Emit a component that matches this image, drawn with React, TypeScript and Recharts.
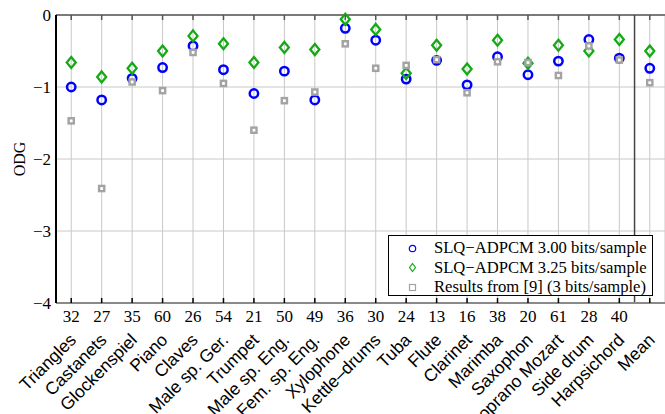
import React from 'react';
import { ComposedChart, Scatter, XAxis, YAxis, CartesianGrid, ReferenceLine } from 'recharts';

const categories = [
  'Triangles', 'Castanets', 'Glockenspiel', 'Piano', 'Claves', 'Male sp. Ger.', 'Trumpet',
  'Male sp. Eng.', 'Fem. sp. Eng.', 'Xylophone', 'Kettle\u2013drums', 'Tuba', 'Flute', 'Clarinet',
  'Marimba', 'Saxophon', 'Soprano Mozart', 'Side drum', 'Harpsichord', 'Mean',
];
const counts = ['32', '27', '35', '60', '26', '54', '21', '50', '49', '36', '30', '24', '13', '16', '38', '20', '61', '28', '40', ''];
const slq300 = [-1.0, -1.18, -0.88, -0.73, -0.43, -0.76, -1.09, -0.78, -1.18, -0.185, -0.35, -0.89, -0.63, -0.97, -0.58, -0.83, -0.64, -0.34, -0.6, -0.74];
const slq325 = [-0.66, -0.86, -0.74, -0.5, -0.29, -0.4, -0.66, -0.45, -0.48, -0.06, -0.2, -0.81, -0.42, -0.75, -0.35, -0.67, -0.42, -0.5, -0.34, -0.5];
const ref9 = [-1.47, -2.41, -0.93, -1.05, -0.52, -0.95, -1.6, -1.19, -1.07, -0.4, -0.74, -0.7, -0.62, -1.08, -0.65, -0.66, -0.84, -0.43, -0.625, -0.94];
const yTicks = [0, -1, -2, -3, -4];
const legendLabels = ['SLQ\u2212ADPCM 3.00 bits/sample', 'SLQ\u2212ADPCM 3.25 bits/sample', 'Results from [9] (3 bits/sample)'];

const xTicks = categories.map((_, i) => i + 0.5);
const mk = (vals: number[]) => vals.map((v, i) => ({ x: i + 0.5, y: v }));

const BLUE = '#0000ff';
const GREEN = '#14aa14';
const GREY = '#a3a3a3';
const PLOT_H = 288;
const SERIF = '"Liberation Serif", "Times New Roman", serif';
const SANS = '"Liberation Sans", Arial, sans-serif';

const Circle = (p: any) => <circle cx={p.cx} cy={p.cy} r={4.2} fill="none" stroke={BLUE} strokeWidth={2.5} />;
const Diamond = (p: any) => (
  <polygon
    points={`${p.cx},${p.cy - 5.5} ${p.cx + 4.5},${p.cy} ${p.cx},${p.cy + 5.5} ${p.cx - 4.5},${p.cy}`}
    fill="none" stroke={GREEN} strokeWidth={2.3} />
);
const Square = (p: any) => <rect x={p.cx - 2.6} y={p.cy - 2.6} width={5.2} height={5.2} fill="#fff" stroke={GREY} strokeWidth={2.4} />;

const XTick = (props: any) => {
  const { x, y, payload } = props;
  const i = Math.round(payload.value - 0.5);
  const ax = x + 6;
  const ay = y + 38;
  return (
    <g>
      <line x1={x} x2={x} y1={y} y2={y - 5} stroke="#000" strokeWidth={1.5} />
      <line x1={x} x2={x} y1={y - PLOT_H} y2={y - PLOT_H + 5} stroke="#555" strokeWidth={1.5} />
      <text x={x} y={y + 19} textAnchor="middle" fontFamily={SERIF} fontSize={17} fill="#000">{counts[i]}</text>
      <text x={ax} y={ay} textAnchor="end" fontFamily={SANS} fontSize={17.5} fill="#000"
        transform={`rotate(-45 ${ax} ${ay})`}>{categories[i]}</text>
    </g>
  );
};

const fmtY = (v: number) => (v === 0 ? '0' : '\u2212' + Math.abs(v));

export default function App() {
  return (
    <div style={{ position: 'relative', width: 665, height: 414, background: '#fff', overflow: 'hidden' }}>
      <style>{'body{margin:0}'}</style>
      <ComposedChart width={665} height={414} margin={{ top: 15, right: 0, bottom: 0, left: 0 }}>
        <CartesianGrid stroke="#c8c8c8" strokeWidth={1} />
        <XAxis type="number" dataKey="x" domain={[0, 20]} ticks={xTicks} interval={0}
          height={111} tickSize={0} tickMargin={0} tickLine={false}
          axisLine={{ stroke: '#8a8a8a', strokeWidth: 2 }} tick={<XTick />} />
        <YAxis type="number" dataKey="y" domain={[-4, 0]} ticks={yTicks} interval={0} width={56}
          tickFormatter={fmtY} tickLine={false} tickSize={0} tickMargin={5}
          axisLine={{ stroke: '#000', strokeWidth: 2 }}
          tick={{ fontFamily: SERIF, fontSize: 17, fill: '#000' }}
          label={{
            content: () => (
              <text x={25} y={159} transform="rotate(-90 25 159)" textAnchor="middle"
                fontFamily={SERIF} fontSize={16} fill="#000">ODG</text>
            ),
          }} />
        <ReferenceLine y={0} stroke="#7a7a7a" strokeWidth={2} />
        <ReferenceLine x={19} stroke="#444" strokeWidth={1.5} />
        <Scatter data={mk(slq300)} shape={<Circle />} isAnimationActive={false} />
        <Scatter data={mk(slq325)} shape={<Diamond />} isAnimationActive={false} />
        <Scatter data={mk(ref9)} shape={<Square />} isAnimationActive={false} />
      </ComposedChart>
      <div style={{
        position: 'absolute', left: 388, top: 235, width: 263, height: 59, border: '1px solid #000',
        background: '#fff', fontFamily: SERIF, fontSize: 16.6, color: '#000',
      }}>
        {legendLabels.map((t, i) => (
          <div key={t} style={{ position: 'absolute', left: 0, top: 2.5 + i * 19.5, height: 19.5, display: 'flex', alignItems: 'center', whiteSpace: 'nowrap' }}>
            <svg width={45} height={19} style={{ flex: 'none' }}>
              {i === 0 && <circle cx={23.5} cy={9.5} r={3.2} fill="none" stroke={BLUE} strokeWidth={1.2} />}
              {i === 1 && <polygon points="23.5,5.5 26.5,9.5 23.5,13.5 20.5,9.5" fill="none" stroke={GREEN} strokeWidth={1.2} />}
              {i === 2 && <rect x={20.5} y={6.5} width={6} height={6} fill="none" stroke={GREY} strokeWidth={1.2} />}
            </svg>
            <span>{t}</span>
          </div>
        ))}
      </div>
    </div>
  );
}
